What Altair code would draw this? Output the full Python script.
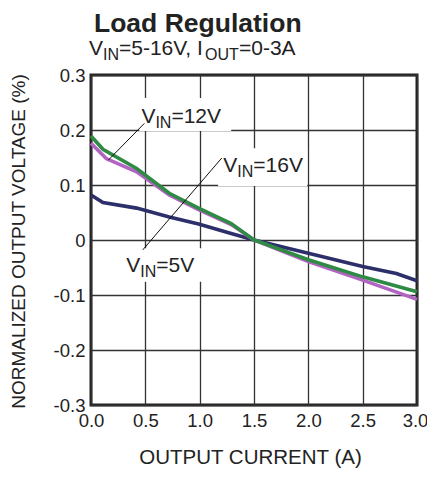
import altair as alt
import pandas as pd

FONT = "Liberation Sans"

# ---- data ----
x_16v = [0.0, 0.11, 0.42, 0.72, 0.99, 1.29, 1.5, 2.0, 2.5, 3.0]
y_16v = [0.189, 0.165, 0.130, 0.085, 0.058, 0.030, 0.0, -0.036, -0.067, -0.094]

x_12v = [0.0, 0.14, 0.42, 0.72, 0.99, 1.29, 1.5, 2.0, 2.5, 3.0]
y_12v = [0.176, 0.148, 0.124, 0.082, 0.055, 0.028, 0.0, -0.039, -0.073, -0.108]

x_5v = [0.0, 0.11, 0.42, 0.72, 0.99, 1.29, 1.5, 2.0, 2.5, 2.81, 3.0]
y_5v = [0.082, 0.068, 0.058, 0.042, 0.029, 0.012, 0.0, -0.024, -0.048, -0.061, -0.074]

x_ticks = [0.0, 0.5, 1.0, 1.5, 2.0, 2.5, 3.0]
y_ticks = [-0.3, -0.2, -0.1, 0.0, 0.1, 0.2, 0.3]

title_text = "Load Regulation"
x_title = "OUTPUT CURRENT (A)"
y_title = "NORMALIZED OUTPUT VOLTAGE (%)"

colors = {"5V": "#2d2f6a", "12V": "#b264c2", "16V": "#2f8b44"}

W, H = 326, 330

xs = alt.Scale(domain=[0, 3], nice=False, zero=False)
ys = alt.Scale(domain=[-0.3, 0.3], nice=False, zero=False)


def series(xv, yv, name):
    df = pd.DataFrame({"x": xv, "y": yv, "s": name})
    return alt.Chart(df).mark_line(strokeWidth=3.6, color=colors[name]).encode(
        x=alt.X("x:Q", scale=xs),
        y=alt.Y("y:Q", scale=ys),
    )


# base with axes
axis_df = pd.DataFrame({"x": [0.0], "y": [0.0]})
base = alt.Chart(axis_df).mark_point(opacity=0).encode(
    x=alt.X(
        "x:Q", scale=xs,
        axis=alt.Axis(
            values=x_ticks, format=".1f", title=x_title, grid=True,
            ticks=False, domain=False, labelPadding=6, labelFlush=False,
            labelOverlap=False,
            labelOffset={"condition": {"test": "datum.value >= 3", "value": -2}, "value": 0},
            labelFont=FONT, labelFontSize=18.5, labelColor="#222",
            titleFont=FONT, titleFontSize=20.5, titleFontWeight="normal",
            titleColor="#222", titleX=W / 2 - 4, titleY=58,
            titleBaseline="alphabetic", titleAlign="center",
        ),
    ),
    y=alt.Y(
        "y:Q", scale=ys,
        axis=alt.Axis(
            values=y_ticks, title=y_title, grid=True, ticks=False, domain=False,
            labelExpr="datum.value == 0 ? '0' : (datum.value < 0 ? '-' : '') + format(abs(datum.value), '.1f')",
            labelPadding=6, labelFlush=False, labelOverlap=False,
            labelFont=FONT, labelFontSize=18.5, labelColor="#222",
            titleFont=FONT, titleFontSize=19, titleFontWeight="normal",
            titleColor="#222", titleX=-67, titleY=H / 2 + 1,
            titleBaseline="alphabetic", titleAlign="center",
        ),
    ),
)

# white label boxes
box_df = pd.DataFrame({
    "x1": [0.445, 1.17, 0.27],
    "x2": [1.29, 1.99, 1.04],
    "y1": [0.198, 0.098, -0.076],
    "y2": [0.258, 0.167, -0.015],
})
boxes = alt.Chart(box_df).mark_rect(color="white").encode(
    x=alt.X("x1:Q", scale=xs), x2="x2:Q",
    y=alt.Y("y1:Q", scale=ys), y2="y2:Q",
)

# pointer lines
ptr_df = pd.DataFrame({
    "x1": [0.158, 1.203],
    "y1": [0.145, 0.149],
    "x2": [0.491, 0.476],
    "y2": [0.212, -0.018],
})
pointers = alt.Chart(ptr_df).mark_rule(color="#111", strokeWidth=1).encode(
    x=alt.X("x1:Q", scale=xs), y=alt.Y("y1:Q", scale=ys),
    x2="x2:Q", y2="y2:Q",
)

# annotation labels with subscripts
ann = [
    ("12V", 0.464, 0.213),
    ("16V", 1.218, 0.124),
    ("5V", 0.324, -0.058),
]
one = pd.DataFrame({"a": [0]})
ann_layers = []
for lab, ax, ay in ann:
    d = pd.DataFrame({"x": [ax], "y": [ay]})
    for txt, dx, dy, fs in [("V", 0, 0, 21), ("IN", 14, 5, 16), ("=" + lab, 30, 0, 21)]:
        ann_layers.append(
            alt.Chart(d).mark_text(
                text=txt, align="left", baseline="alphabetic", dx=dx, dy=dy,
                font=FONT, fontSize=fs, color="#222",
            ).encode(x=alt.X("x:Q", scale=xs), y=alt.Y("y:Q", scale=ys))
        )

# title + subtitle (pixel positions relative to plot area)
head_layers = [
    alt.Chart(one).mark_text(
        text=title_text, align="left", baseline="alphabetic",
        font=FONT, fontSize=26.5, fontWeight="bold", color="#222",
    ).encode(x=alt.value(3), y=alt.value(-43))
]
sx = -2
for txt, dx, dy, fs in [("V", 0, 0, 21), ("IN", 14, 5, 16), ("=5-16V, I", 30, 0, 21),
                        ("OUT", 116, 5, 16), ("=0-3A", 150, 0, 21)]:
    head_layers.append(
        alt.Chart(one).mark_text(
            text=txt, align="left", baseline="alphabetic",
            font=FONT, fontSize=fs, color="#222",
        ).encode(x=alt.value(sx + dx), y=alt.value(-20 + dy))
    )

chart = alt.layer(
    base,
    boxes,
    series(x_5v, y_5v, "5V"),
    series(x_12v, y_12v, "12V"),
    series(x_16v, y_16v, "16V"),
    pointers,
    *ann_layers,
    *head_layers,
).properties(
    width=W, height=H,
    autosize=alt.AutoSizeParams(type="none"),
    padding={"left": 83, "top": 67, "right": 10, "bottom": 67},
).configure(
    background="white",
).configure_view(
    stroke="#222", strokeWidth=3,
).configure_axis(
    gridColor="#333", gridWidth=1.3, gridOpacity=1,
)

chart.save("out.html", embed_options={"renderer": "svg", "actions": False})
